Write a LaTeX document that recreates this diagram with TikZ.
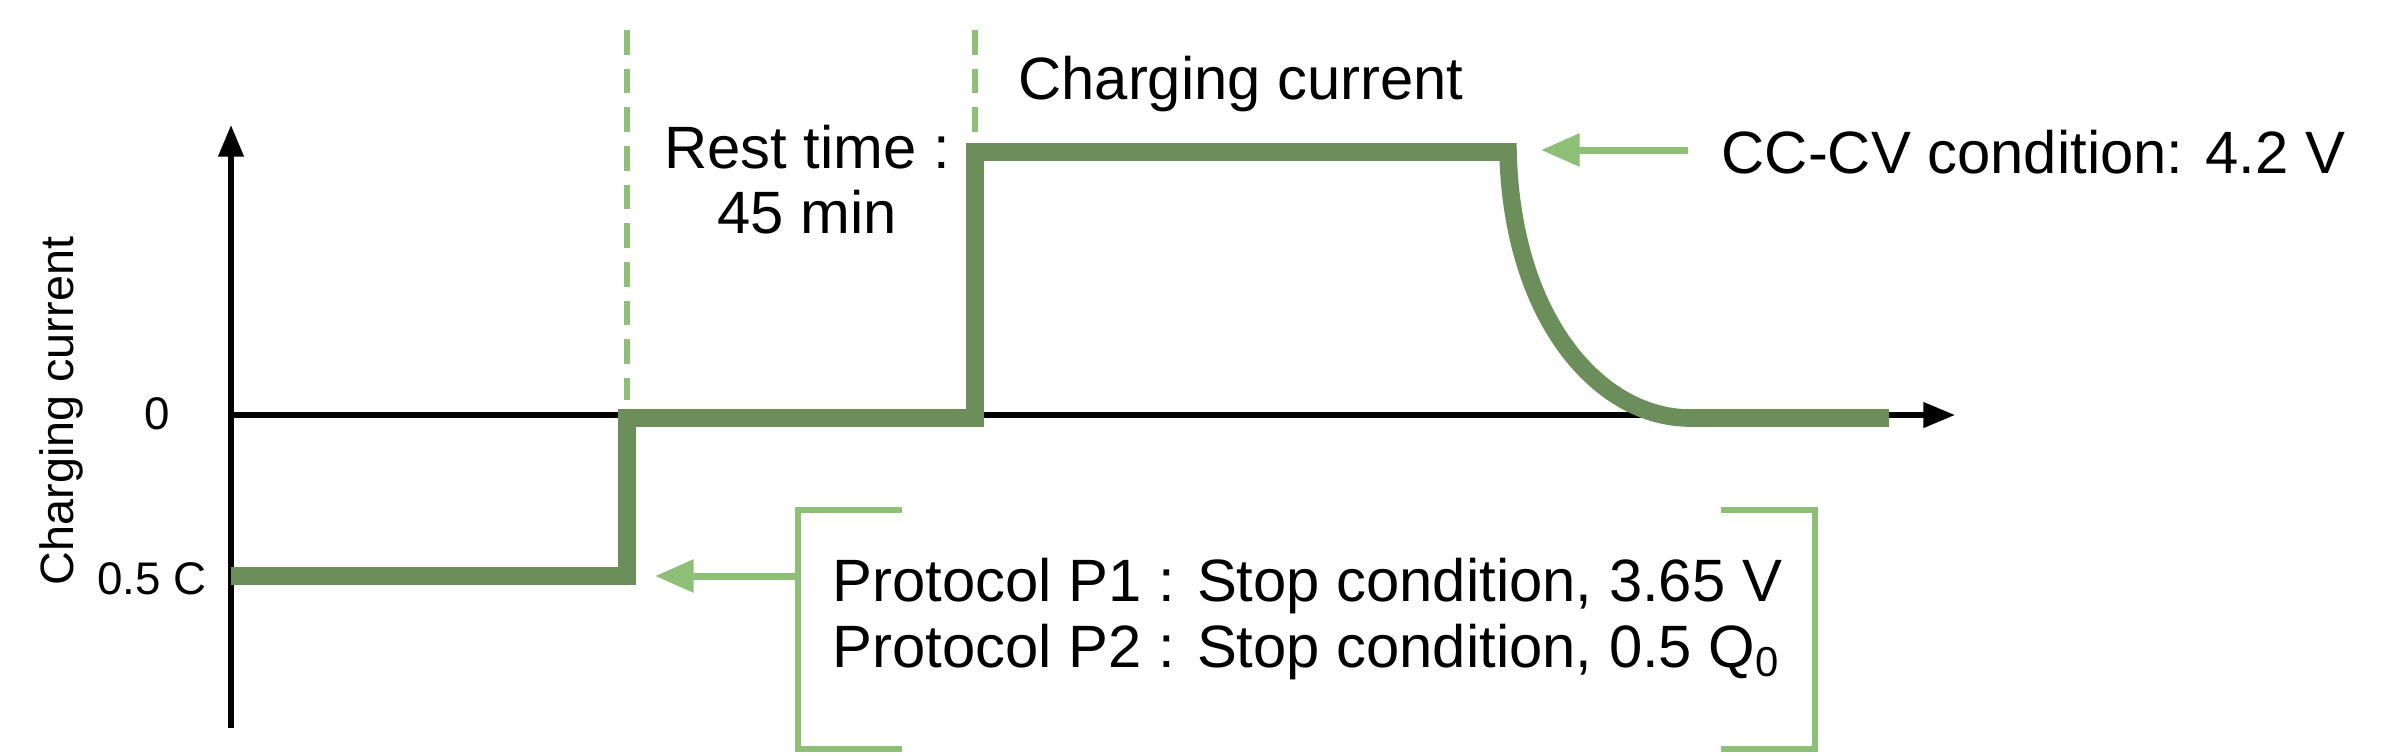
\documentclass[tikz,border=0pt]{standalone}
\usepackage{fontspec}
\setmainfont{Liberation Sans}
\usetikzlibrary{arrows.meta}
\definecolor{curvegreen}{HTML}{6B8E5A}
\definecolor{markgreen}{HTML}{8DBF76}
\begin{document}
\begin{tikzpicture}[
    x = 0.01cm, y = -0.01cm,
    > = {Triangle[length=11pt, width=9pt]},
    axis/.style = {draw, line width = 1.6pt, black, -{Triangle[length=9pt, width=7pt]}},
    curve/.style = {draw, line width = 5pt, curvegreen, line join = miter},
    marker/.style = {draw, line width = 1.8pt, markgreen, dash pattern = on 7pt off 4pt},
    bracket/.style = {draw, line width = 1.8pt, markgreen},
    pointer/.style = {draw, line width = 2pt, markgreen, ->},
    txt/.style = {font = \fontsize{17}{18.5}\selectfont, inner sep = 0pt},
    tick/.style = {font = \fontsize{13}{15}\selectfont, inner sep = 0pt},
    ]
    \useasboundingbox (0,0) rectangle (2388,753);

    % axes
    \coordinate (o) at (231,415);
    \coordinate (ytop) at (231,125);
    \coordinate (ybot) at (231,728);
    \coordinate (xend) at (1955,415);
    \draw[axis] (ybot) -- (ytop);
    \draw[axis] (o) -- (xend);

    % labels of the current axis
    \node[tick, rotate=90, font=\fontsize{13.3}{15}\selectfont] (ylab) at (61,411) {Charging current};
    \node[tick] (zero) at (157,414) {0};
    \node[tick] (half) at (152,579) {0.5 C};

    % charging current curve
    \coordinate (c0) at (231,576);
    \coordinate (c1) at (627,576);
    \coordinate (c2) at (627,418);
    \coordinate (c3) at (975,418);
    \coordinate (c4) at (975,152);
    \coordinate (c5) at (1508,152);
    \coordinate (c6) at (1690,418);
    \coordinate (c7) at (1889,418);
    \draw[curve] (c0) -- (c1) -- (c2) -- (c3) -- (c4) -- (c5)
        .. controls (1512,320) and (1600,418) .. (c6) -- (c7);

    % rest period markers
    \coordinate (m1a) at (627,30);
    \coordinate (m1b) at (627,400);
    \coordinate (m2a) at (975,30);
    \coordinate (m2b) at (975,135);
    \draw[marker] (m1a) -- (m1b);
    \draw[marker] (m2a) -- (m2b);

    \node[txt] (charge) at (1241,84) {Charging current};
    \node[txt, align=center] (rest) at (807,180) {Rest time :\\45 min};

    % CC-CV note
    \node[txt, anchor=west] (cccv) at (1721,152) {CC-CV condition: 4.2 V};
    \coordinate (cccvtail) at (1688,150);
    \coordinate (cccvtip) at (1541,150);
    \draw[pointer] (cccvtail) -- (cccvtip);

    % stop conditions in brackets
    \node[txt, anchor=west, align=left] (stop) at (832,619)
        {Protocol P1 : Stop condition, 3.65 V\\Protocol P2 : Stop condition, 0.5 Q\textsubscript{0}};
    \coordinate (bl1) at (902,510);
    \coordinate (bl2) at (798,510);
    \coordinate (bl3) at (798,749);
    \coordinate (bl4) at (902,749);
    \coordinate (br1) at (1721,510);
    \coordinate (br2) at (1815,510);
    \coordinate (br3) at (1815,749);
    \coordinate (br4) at (1721,749);
    \draw[bracket] (bl1) -- (bl2) -- (bl3) -- (bl4);
    \draw[bracket] (br1) -- (br2) -- (br3) -- (br4);
    \coordinate (stoptail) at (798,576);
    \coordinate (stoptip) at (655,576);
    \draw[pointer] (stoptail) -- (stoptip);
\end{tikzpicture}
\end{document}
